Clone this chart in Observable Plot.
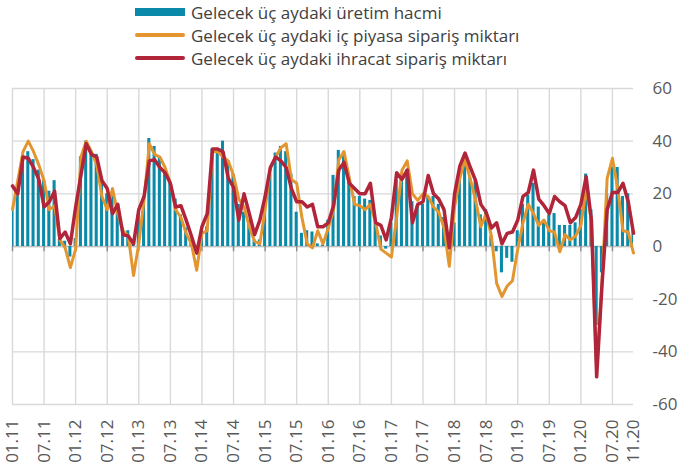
<!DOCTYPE html>
<html><head><meta charset="utf-8">
<script src="https://cdn.jsdelivr.net/npm/d3@7"></script>
<script src="https://cdn.jsdelivr.net/npm/@observablehq/plot@0.6"></script>
<style>
body{margin:0;background:#fff;font-family:"Open Sans",sans-serif;}
#wrap{position:relative;width:681px;height:473px;overflow:hidden;}
#legend{position:relative;height:75px;width:681px;}
.item{position:absolute;left:135px;height:22px;display:flex;align-items:center;font-size:17px;color:#404040;white-space:nowrap;}
.sw{width:50px;margin-right:6px;}
#chart svg{display:block;}
</style></head><body>
<div id="wrap"><div id="legend"></div><div id="chart"></div></div>
<script>
// Monthly data, 01.2011 .. 11.2020 (119 months)
const tickLabels = ["01.11","07.11","01.12","07.12","01.13","07.13","01.14","07.14","01.15","07.15","01.16","07.16","01.17","07.17","01.18","07.18","01.19","07.19","01.20","07.20","11.20"];
const yTicks = [-60,-40,-20,0,20,40,60];
const seriesNames = ["Gelecek üç aydaki üretim hacmi","Gelecek üç aydaki iç piyasa sipariş miktarı","Gelecek üç aydaki ihracat sipariş miktarı"];

const uretim = [14,22,32,36,33,29,25,21,25,3,2,-4,3,34,40,36,35,26,20,19,14,7,6,1,12,19,41,38,34,29,24,18,12,7,2.5,-1,6,7.5,37,36,40,32.5,27.5,16,13,10,2.5,2.5,14,27.5,35.5,38,36,27.5,13,5,6,5.5,1,0.5,10,27,36.5,36,25.5,19,19,18,17.5,9,4,-1,9,25,25,29,17,15.5,16,19,19,16,11,4,9,26,34,26,25,12,14,4,-2,-10,-4.5,-6,6,16,19.5,24,15,10,12,12.5,8,8,8,9,14,27.5,14,-30,-10,20,30,30,19,20,7];
const icPiyasa = [14,25,36,40,36,31,25,14,15.5,2.5,-0.5,-8,-1,34,40,36,31,19,14,22,12.5,6,4,-11,1,18,39,35,34,30,24,14,11,5,1,-9,5,6,36,36,34,32.5,27,18,15,7.5,2,1,14,30,34,37.5,39,25.5,24,11,1,-0.5,6,1,7,14,33,36,26,16,15.5,14,16,9,-1,-2.5,-4,11,29,32.5,20,17.5,20,19,15,13,7,-7.5,15,26,33,25.5,17.5,7.5,12.5,4,-14,-19,-15,-13,-1,9,16,12.5,8,10,6,5.5,-2,4.5,2.5,4,8,22,10,-47,-14,26,33.5,22,6,5.5,-2.5];
const ihracat = [23,20,34,33.5,30,25.5,15,17,21,3,5.5,1,15,27,39,35,34,25,22,12.5,16,4.5,4,1,14,19,32.5,33,30,28,24,15,15.5,10,4,-2.5,7.5,12.5,37,37,36,26,22.5,10,20,12.5,4.5,10,19,30,34,32.5,30,22,17,17,15,16,7.5,7.5,9,15.5,29,32,24,22,20,20,24,9,8,2.5,11,28,25.5,29,9,16,17,27,20,18,14,-0.5,20,30.5,35.5,30,25,16,13,7,9,1,5,5.5,10,19,20.5,29,18,15.5,12.5,19,17,15.5,9,11,16,26.5,10,-49.5,-15,14,20.5,20.5,24,17,5];

const colBar = "#0a8aa8", colOrange = "#e3962f", colRed = "#b0253a";

// month index of a "MM.YY" label relative to 01.11
const idxOf = s => { const [m, y] = s.split(".").map(Number); return (y - 11) * 12 + (m - 1); };
const tickIdx = tickLabels.map(idxOf);
const labelAt = new Map(tickIdx.map((k, j) => [k, tickLabels[j]]));
const gridIdx = tickIdx.filter(k => k % 6 === 0);

const rows = uretim.map((v, i) => ({i, u: v, o: icPiyasa[i], r: ihracat[i]}));

// legend
const legend = document.getElementById("legend");
const swatches = [
  `<div class="sw" style="height:8px;background:${colBar}"></div>`,
  `<div class="sw" style="height:4px;border-radius:2px;background:${colOrange}"></div>`,
  `<div class="sw" style="height:4px;border-radius:2px;background:${colRed}"></div>`
];
seriesNames.forEach((n, k) => {
  const d = document.createElement("div");
  d.className = "item";
  d.style.top = (1 + 23 * k) + "px";
  d.innerHTML = swatches[k] + `<span>${n}</span>`;
  legend.appendChild(d);
});

const chart = Plot.plot({
  width: 681,
  height: 398,
  marginLeft: 12,
  marginRight: 48,
  marginTop: 13,
  marginBottom: 69,
  style: {fontFamily: "Open Sans", fontSize: "17px", color: "#595959", background: "#fff"},
  x: {domain: [0, 118], label: null},
  y: {domain: [-60, 60], label: null},
  marks: [
    Plot.ruleY(yTicks, {stroke: "#d9d9d9", strokeWidth: 1.4}),
    Plot.ruleX(gridIdx, {y1: -60, y2: 60, stroke: "#d9d9d9", strokeWidth: 1.4}),
    Plot.ruleY([0], {stroke: "#bfbfbf", strokeWidth: 1.4}),
    Plot.ruleX(gridIdx, {y1: 0, y2: -2, stroke: "#8c8c8c", strokeWidth: 1.4}),
    Plot.rectY(rows, {x1: d => d.i - 0.29, x2: d => d.i + 0.29, y1: 0, y2: "u", fill: colBar, clip: true}),
    Plot.line(rows, {x: "i", y: "o", stroke: colOrange, strokeWidth: 3, strokeLinejoin: "round"}),
    Plot.line(rows, {x: "i", y: "r", stroke: colRed, strokeWidth: 3.5, strokeLinejoin: "round"}),
    Plot.axisY(yTicks, {anchor: "right", tickSize: 0, tickPadding: 19, textAnchor: "start", tickFormat: d => String(d), label: null}),
    Plot.axisX(tickIdx, {anchor: "bottom", tickSize: 0, tickPadding: 15, tickRotate: -90, tickFormat: k => labelAt.get(k), label: null})
  ]
});
document.getElementById("chart").appendChild(chart);
</script>
</body></html>
